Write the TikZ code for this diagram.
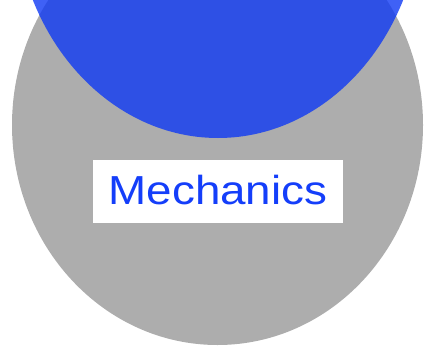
\documentclass[tikz,border=0pt]{standalone}
\usepackage{fontspec}
\setmainfont{Liberation Sans}
\definecolor{grayfill}{RGB}{173,173,173}
\definecolor{bluefill}{RGB}{15,57,244}
\definecolor{textblue}{RGB}{20,62,250}
\begin{document}
\begin{tikzpicture}[x=1pt,y=-1pt,
  labelbox/.style={fill=white,inner sep=0pt,minimum width=250pt,minimum height=63pt},
  labeltext/.style={text=textblue,inner sep=0pt,font=\fontsize{40.5}{44}\selectfont}]
\useasboundingbox (0,0) rectangle (427,345);
\clip (0,0) rectangle (427,345);
\fill[grayfill] (217.5,125) ellipse [x radius=205.5, y radius=220];
\fill[bluefill,fill opacity=0.8] (218,-100) ellipse [x radius=204, y radius=238];
\node[labelbox] (box) at (218,191.5) {};
\node[labeltext] (label) at (218,190.5) {\scalebox{1.13}[1]{Mechanics}};
\end{tikzpicture}
\end{document}
